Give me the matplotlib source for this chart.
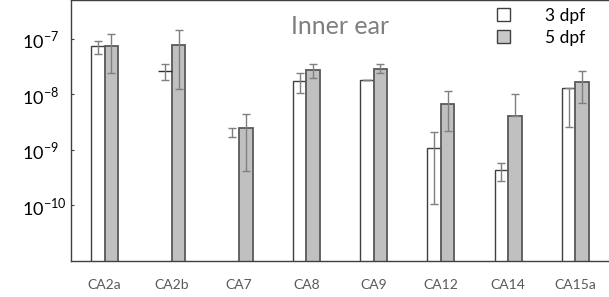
import numpy as np
import matplotlib
matplotlib.use("Agg")
import matplotlib.pyplot as plt
from matplotlib.patches import Patch

plt.rcParams['font.family'] = ['Lato', 'DejaVu Sans']
plt.rcParams['mathtext.fontset'] = 'custom'
plt.rcParams['mathtext.rm'] = 'Lato'

# data
genes = ["CA2a", "CA2b", "CA7", "CA8", "CA9", "CA12", "CA14", "CA15a"]
dpf3 = [7.4e-8, 2.67e-8, 2.5e-9, 1.71e-8, 1.78e-8, 1.1e-9, 4.35e-10, 1.29e-8]
dpf3_hi = [9.3e-8, 3.56e-8, 2.5e-9, 2.45e-8, 1.78e-8, 2.11e-9, 5.9e-10, 1.29e-8]
dpf3_lo = [5.4e-8, 1.78e-8, 1.7e-9, 1.07e-8, 1.78e-8, 1.07e-10, 2.7e-10, 2.56e-9]
dpf5 = [7.4e-8, 7.7e-8, 2.5e-9, 2.73e-8, 2.9e-8, 6.76e-9, 4.1e-9, 1.69e-8]
dpf5_hi = [1.2e-7, 1.42e-7, 4.47e-9, 3.56e-8, 3.56e-8, 1.16e-8, 1.02e-8, 2.67e-8]
dpf5_lo = [2.4e-8, 1.23e-8, 4.17e-10, 1.96e-8, 2.38e-8, 2.2e-9, 4.1e-9, 7.05e-9]
# bars drawn without outline in the source (only the top edge visible)
no_outline = ["CA2b", "CA7"]

x = np.arange(len(genes))
w = 0.2

fig = plt.figure(figsize=(6.09, 2.97), dpi=100)
ax = fig.add_axes([0.1166, 0.1212, 0.8834, 0.8788])

d3 = np.array(dpf3)
d5 = np.array(dpf5)
for i, g in enumerate(genes):
    if g in no_outline:
        if g == "CA2b":
            ax.hlines(d3[i], x[i] - w, x[i], color='#303030', lw=1)
    else:
        ax.bar(x[i] - w / 2, d3[i], w, color='white', edgecolor='#404040', lw=1.0)
ax.bar(x + w / 2, d5, w, color='#c0c0c0', edgecolor='#595959', lw=1.3)

err3 = [d3 - np.array(dpf3_lo), np.array(dpf3_hi) - d3]
err5 = [d5 - np.array(dpf5_lo), np.array(dpf5_hi) - d5]
ax.errorbar(x - w / 2, d3, yerr=err3, fmt='none', ecolor='#7f7f7f', elinewidth=1, capsize=3, capthick=1)
ax.errorbar(x + w / 2, d5, yerr=err5, fmt='none', ecolor='#7f7f7f', elinewidth=1, capsize=3, capthick=1)

ax.set_yscale('log')
ax.set_ylim(1e-11, 5e-7)
ax.set_xlim(-0.5, 7.5)
ax.set_yticks([1e-10, 1e-9, 1e-8, 1e-7])
ax.set_yticklabels([r'$10^{-10}$', r'$10^{-9}$', r'$10^{-8}$', r'$10^{-7}$'], fontsize=13)
ax.minorticks_off()
ax.tick_params(axis='y', direction='in', length=2, pad=35, color='#404040')
ax.set_xticks(x)
ax.set_xticklabels(genes, fontsize=10, color='#595959')
ax.tick_params(axis='x', length=0, pad=13)
for lab in ax.get_yticklabels():
    lab.set_horizontalalignment('left')

ax.spines['right'].set_visible(False)
for s in ['left', 'top', 'bottom']:
    ax.spines[s].set_color('#404040')
    ax.spines[s].set_linewidth(1)

ax.text(0.50, 0.9, "Inner ear", transform=ax.transAxes, fontsize=18,
        color='#7f7f7f', ha='center', va='center')

handles = [Patch(facecolor='white', edgecolor='#404040', label='3 dpf'),
           Patch(facecolor='#c8c8c8', edgecolor='#404040', label='5 dpf')]
ax.legend(handles=handles, loc='upper right', bbox_to_anchor=(0.985, 1.03), frameon=False,
          fontsize=12.5, handlelength=0.75, handleheight=0.8, handletextpad=2.0,
          labelspacing=0.35)

fig.savefig("out.png", dpi=100)
